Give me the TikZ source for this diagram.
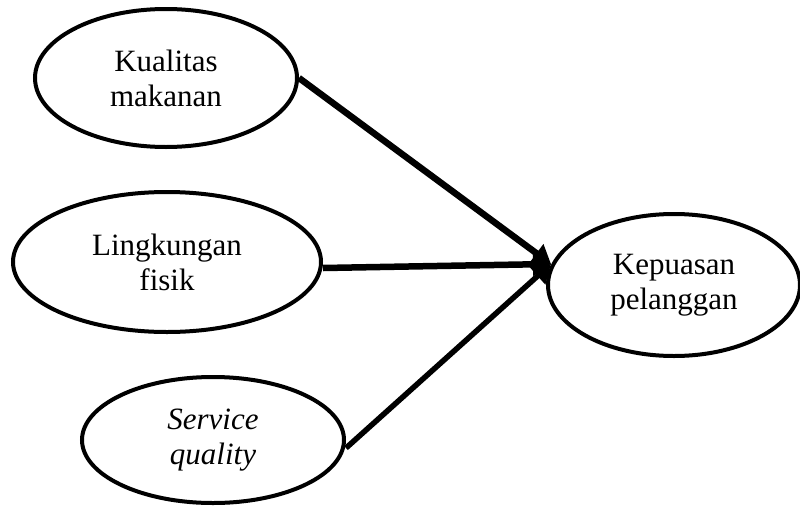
\documentclass[tikz,border=0pt]{standalone}
\usepackage{fontspec}
\setmainfont{Liberation Serif}
\usetikzlibrary{shapes.geometric,arrows.meta}
\tikzset{
  var/.style={ellipse, draw=black, line width=4pt, inner sep=0pt, align=center,
    font=\fontsize{31}{35}\selectfont},
  link/.style={line width=6.5pt, -{Triangle[length=18pt,width=22pt]}},
}
\begin{document}
\begin{tikzpicture}[x=1pt,y=-1pt]
\useasboundingbox (0,0) rectangle (800,506);
\node[var, minimum width=262pt, minimum height=138pt] (kual) at (166,78) {Kualitas\\makanan};
\node[var, minimum width=308pt, minimum height=140pt] (ling) at (167,262) {Lingkungan\\fisik};
\node[var, minimum width=262pt, minimum height=126pt] (serv) at (213,440) {\textit{Service}\\\textit{quality}};
\node[var, minimum width=252pt, minimum height=142pt] (kep) at (674,285) {Kepuasan\\pelanggan};
\coordinate (tip) at (551,264);
\draw[link] (kual.east) -- (tip);
\draw[link] (ling.east) ++(0,6) -- (tip);
\draw[link, line width=5.5pt] (serv.east) ++(0,8) -- (tip);
\end{tikzpicture}
\end{document}
